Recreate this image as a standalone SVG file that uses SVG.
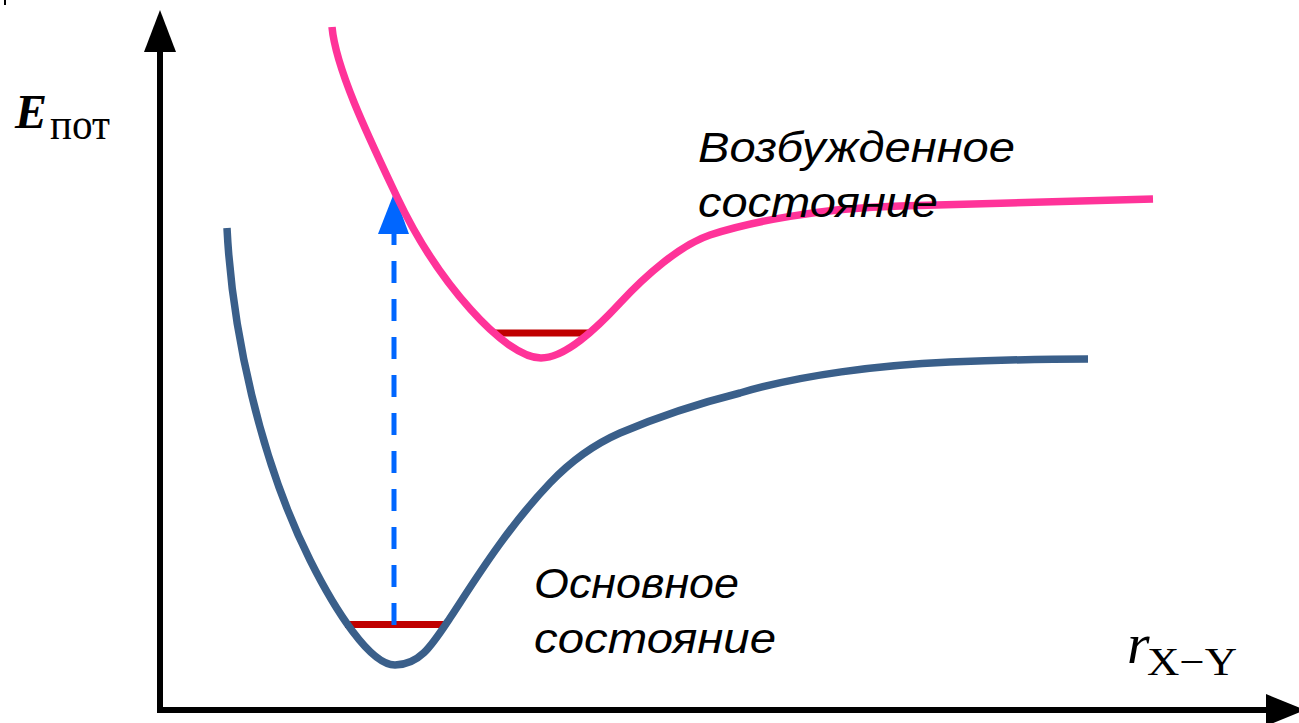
<svg xmlns="http://www.w3.org/2000/svg" width="1299" height="723" viewBox="0 0 1299 723">
<style>
.axis{stroke:#000;stroke-width:6;fill:none}
.ground{stroke:#3A5F8A;stroke-width:7.5;fill:none;stroke-linecap:butt}
.excited{stroke:#FF3399;stroke-width:7.5;fill:none;stroke-linecap:butt}
.level{stroke:#C00000;stroke-width:7;fill:none}
.trans{stroke:#0066FF;stroke-width:5;stroke-dasharray:22 16;fill:none}
.lbl{font-family:"Liberation Sans",Arial,sans-serif;font-style:italic;font-size:43px;fill:#000}
.math{font-family:"Liberation Serif","Times New Roman",serif;fill:#000}
</style>
<rect width="1299" height="723" fill="#fff"/>
<rect x="4" y="0" width="2" height="5" fill="#000"/>
<g id="axes">
<line class="axis" x1="160" y1="713" x2="160" y2="50"/>
<polygon points="160,10 144,52 176,52" fill="#000"/>
<line class="axis" x1="157" y1="710" x2="1268" y2="710"/>
<polygon points="1305,710 1266,694 1266,726" fill="#000"/>
<text class="math" x="15" y="128" font-size="48" font-weight="bold" font-style="italic">E</text>
<text class="math" x="50" y="139" font-size="44" textLength="60" lengthAdjust="spacingAndGlyphs">пот</text>
<text class="math" x="1127" y="663" font-size="58" font-style="italic">r</text>
<text class="math" x="1147" y="675" font-size="40" textLength="90" lengthAdjust="spacingAndGlyphs">X−Y</text>
</g>
<g id="levels">
<line class="level" x1="345" y1="624.5" x2="445" y2="624.5"/>
<line class="level" x1="494" y1="333" x2="588" y2="333"/>
</g>
<g id="connectors">
<line class="trans" x1="394" y1="625" x2="394" y2="234"/>
<polygon points="394,193 378,234 409,234" fill="#0066FF"/>
</g>
<g id="ground-state">
<path class="ground" d="M227,228 C232,330 260,460 310,560 C335,610 370,665 395,665 C420,665 432,645 450,618 C470,588 505,530 550,483 C570,462 595,444 620,433 C660,416 700,403 740,393 C800,375 880,365 950,362 C1000,360 1050,359 1088,359"/>
<text class="lbl" x="534" y="598" textLength="205" lengthAdjust="spacingAndGlyphs">Основное</text>
<text class="lbl" x="534" y="653" textLength="242" lengthAdjust="spacingAndGlyphs">состояние</text>
</g>
<g id="excited-state">
<path class="excited" d="M332,27 C336,70 370,140 397,197 C437.5,282.5 505,358 541,358 C565,358 595,330 620,303 C645,276 680,245 710,235 C750,222 820,208 900,206 C980,204 1100,200 1153,199"/>
<text class="lbl" x="698" y="162" textLength="317" lengthAdjust="spacingAndGlyphs">Возбужденное</text>
<text class="lbl" x="698" y="217" textLength="240" lengthAdjust="spacingAndGlyphs">состояние</text>
</g>
</svg>
